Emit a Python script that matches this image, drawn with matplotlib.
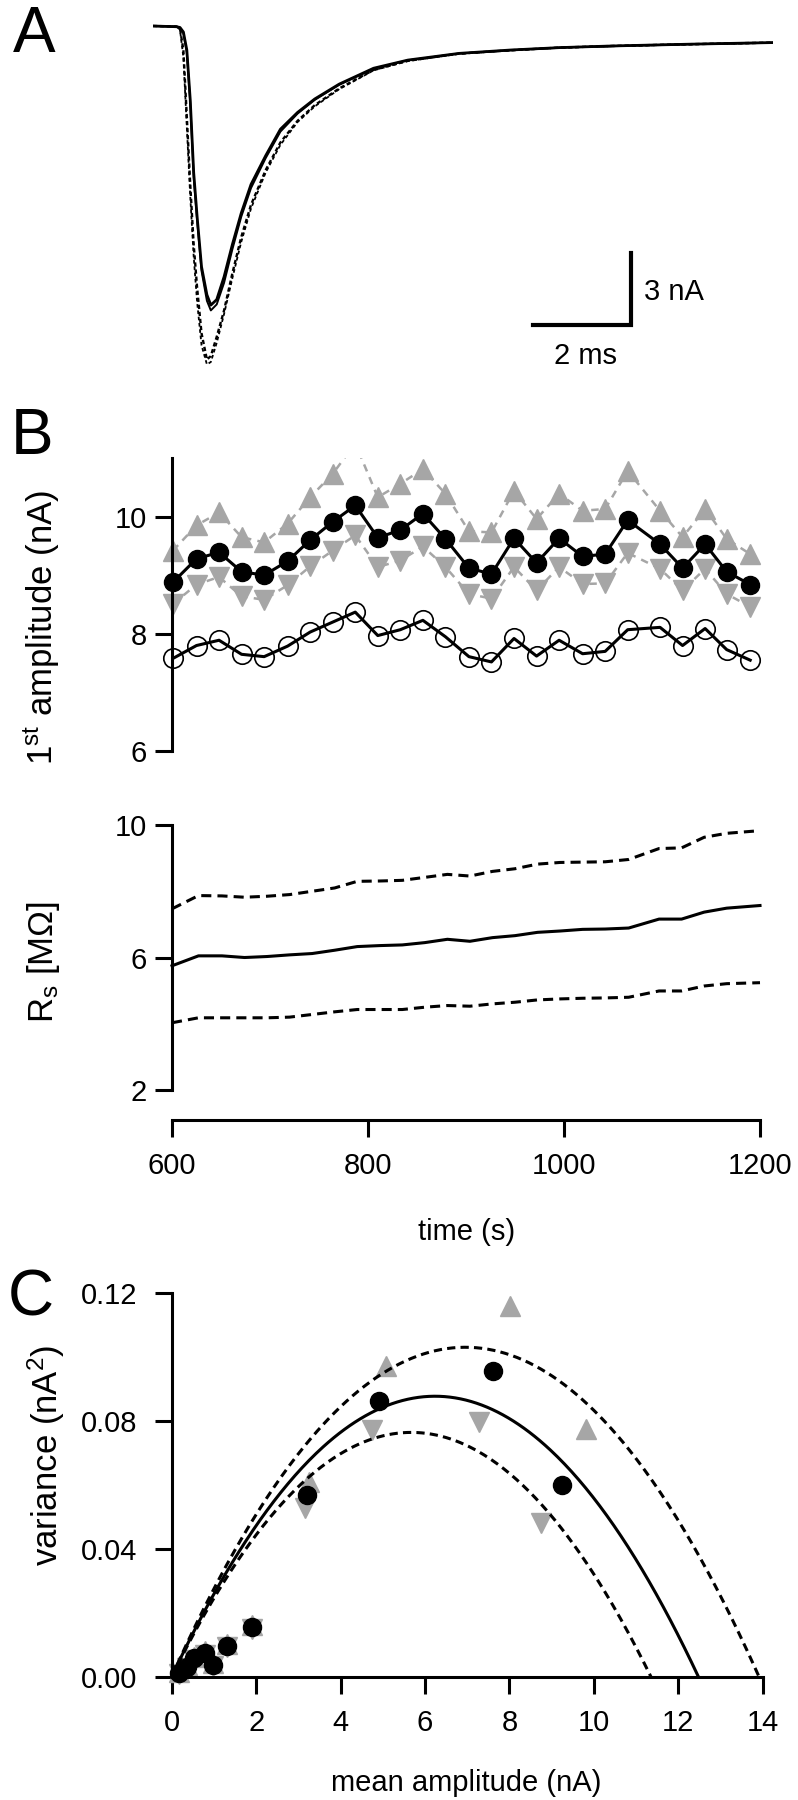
import numpy as np
import matplotlib.pyplot as plt

plt.rcParams['font.family'] = ['Liberation Sans', 'DejaVu Sans']
plt.rcParams['mathtext.fontset'] = 'custom'
plt.rcParams['mathtext.rm'] = 'Liberation Sans'
plt.rcParams['mathtext.it'] = 'Liberation Sans:italic'

W, H, DPI = 798, 1800, 100
GRAY = '#a6a6a6'

# ---- panel A: superimposed EPSCs (ms, nA)
trace_t = [0, 0.48, 0.55, 0.62, 0.69, 0.76, 0.83, 0.90, 0.99, 1.10, 1.18, 1.30, 1.45,
           1.62, 1.80, 2.0, 2.3, 2.6, 2.95, 3.3, 3.8, 4.5, 5.2, 6.25, 7.3, 8.3, 9.4,
           10.9, 12.65]
trace_solid_1 = [0, -0.03, -0.06, -0.25, -1.0, -3.08, -6.1, -7.94, -10.03, -11.2, -11.63,
                 -11.4, -10.45, -9.1, -7.8, -6.6, -5.4, -4.3, -3.6, -3.04, -2.42, -1.76,
                 -1.42, -1.14, -1.0, -0.9, -0.83, -0.76, -0.69]
trace_solid_2 = [0, -0.03, -0.08, -0.3, -1.1, -3.2, -6.3, -8.1, -10.2, -11.45, -11.85,
                 -11.6, -10.7, -9.3, -7.95, -6.75, -5.5, -4.4, -3.65, -3.08, -2.45, -1.78,
                 -1.43, -1.15, -1.01, -0.9, -0.84, -0.76, -0.70]
trace_dash_1 = [0, -0.02, -0.1, -1.0, -3.78, -6.6, -9.1, -10.9, -12.8, -13.9, -13.75,
                -12.95, -11.85, -10.3, -8.8, -7.45, -6.0, -4.85, -3.95, -3.3, -2.6, -1.83,
                -1.45, -1.15, -1.01, -0.9, -0.83, -0.76, -0.69]
trace_dash_2 = [0, -0.02, -0.15, -1.3, -4.2, -7.1, -9.6, -11.5, -13.3, -14.1, -14.0,
                -13.2, -12.0, -10.5, -9.0, -7.6, -6.1, -4.95, -4.0, -3.35, -2.63, -1.85,
                -1.46, -1.16, -1.02, -0.91, -0.84, -0.77, -0.70]

# ---- panel B: first amplitude per sweep (s, nA)
sweep_t = [601, 625, 648, 671, 694, 718, 741, 764, 787, 810, 833, 856, 879, 903, 926,
           949, 972, 995, 1019, 1042, 1065, 1098, 1121, 1144, 1166, 1190]
amp_mean = [8.88, 9.28, 9.39, 9.06, 9.00, 9.24, 9.60, 9.91, 10.19, 9.64, 9.77, 10.05,
            9.62, 9.12, 9.02, 9.63, 9.21, 9.63, 9.32, 9.36, 9.94, 9.53, 9.12, 9.53,
            9.06, 8.84]
amp_up = [9.42, 9.85, 10.07, 9.65, 9.56, 9.88, 10.33, 10.73, 11.25, 10.33, 10.56, 10.81,
          10.39, 9.75, 9.73, 10.44, 9.96, 10.39, 10.10, 10.13, 10.78, 10.10, 9.65, 10.13,
          9.62, 9.36]
amp_down = [8.51, 8.84, 8.97, 8.64, 8.58, 8.83, 9.15, 9.42, 9.68, 9.14, 9.25, 9.49,
            9.14, 8.68, 8.60, 9.14, 8.74, 9.14, 8.85, 8.86, 9.38, 9.11, 8.74, 9.11,
            8.68, 8.46]
amp_open = [7.58, 7.80, 7.89, 7.65, 7.61, 7.79, 8.03, 8.20, 8.37, 7.97, 8.07, 8.23,
            7.95, 7.61, 7.52, 7.92, 7.62, 7.89, 7.66, 7.70, 8.07, 8.11, 7.80, 8.09,
            7.73, 7.55]

# series resistance (MOhm)
rs_t = [600, 627, 651, 674, 697, 720, 743, 766, 789, 812, 835, 858, 881, 904, 927, 950,
        973, 996, 1019, 1042, 1066, 1097, 1120, 1143, 1166, 1200]
rs_mid = [5.75, 6.05, 6.05, 6.00, 6.03, 6.08, 6.12, 6.22, 6.33, 6.36, 6.38, 6.45, 6.55,
          6.49, 6.60, 6.66, 6.76, 6.80, 6.85, 6.86, 6.89, 7.16, 7.16, 7.37, 7.49, 7.57]
rs_hi = [7.47, 7.87, 7.86, 7.82, 7.85, 7.90, 8.00, 8.10, 8.30, 8.31, 8.33, 8.42, 8.51,
         8.46, 8.60, 8.68, 8.82, 8.87, 8.88, 8.89, 8.96, 9.29, 9.31, 9.63, 9.75, 9.83]
rs_lo = [4.03, 4.18, 4.18, 4.18, 4.18, 4.20, 4.28, 4.36, 4.43, 4.43, 4.43, 4.50, 4.55,
         4.53, 4.60, 4.65, 4.72, 4.75, 4.77, 4.78, 4.80, 4.99, 4.99, 5.14, 5.21, 5.24]

# ---- panel C: variance-mean (nA, nA^2)
dot_x = [0.18, 0.36, 0.52, 0.78, 0.97, 1.30, 1.91, 3.20, 4.90, 7.61, 9.25]
dot_y = [0.0011, 0.0031, 0.0057, 0.0074, 0.0037, 0.0097, 0.0156, 0.0568, 0.0863, 0.0956, 0.0599]
up_x = [0.18, 0.36, 0.52, 0.78, 0.97, 1.30, 1.91, 3.26, 5.08, 8.02, 9.82]
up_y = [0.0015, 0.0036, 0.0062, 0.0080, 0.0042, 0.0102, 0.0162, 0.0609, 0.0971, 0.116, 0.0773]
down_x = [0.18, 0.36, 0.52, 0.78, 0.97, 1.30, 1.91, 3.16, 4.74, 7.27, 8.74]
down_y = [0.0007, 0.0027, 0.0052, 0.0068, 0.0032, 0.0092, 0.0150, 0.0526, 0.0771, 0.0797, 0.0479]
# parabolic fits var = i*I - I^2/N  (solid, upper dashed, lower dashed)
fit_i = [0.0281, 0.0296, 0.0269]
fit_n = [444, 470, 422]


def box(l, t, r, b):
    return [l / W, 1 - b / H, (r - l) / W, (b - t) / H]


def style_ticks(ax, pad_y=6):
    ax.tick_params(axis='both', length=12, width=2.2, labelsize=21, direction='out')
    ax.tick_params(axis='y', pad=pad_y)
    ax.tick_params(axis='x', pad=11)
    for s in ax.spines.values():
        s.set_linewidth(2.2)
    ax.spines['top'].set_visible(False)
    ax.spines['right'].set_visible(False)


fig = plt.figure(figsize=(W / DPI, H / DPI), dpi=DPI)

# ---------------- A
axA = fig.add_axes(box(153, 14, 773, 374))
axA.set_xlim(0, 12.65)
axA.set_ylim(-14.5, 0.5)
axA.axis('off')
axA.plot(trace_t, trace_dash_1, color='black', lw=1.7, ls=(0, (1.8, 1.2)))
axA.plot(trace_t, trace_dash_2, color='black', lw=1.3, ls=(0, (2, 1.5)))
axA.plot(trace_t, trace_solid_2, color='black', lw=1.4)
axA.plot(trace_t, trace_solid_1, color='black', lw=2.0)
axA.plot([7.76, 9.76, 9.76], [-12.46, -12.46, -9.46], color='black', lw=3,
         solid_joinstyle='miter', clip_on=False)
axA.text(10.02, -11.1, '3 nA', fontsize=21, ha='left', va='center')
axA.text(8.82, -13.75, '2 ms', fontsize=21, ha='center', va='center')

# ---------------- B top
axB1 = fig.add_axes(box(157.3, 458, 774.7, 751))
axB1.set_xlim(585, 1215)
axB1.set_ylim(6, 11)
style_ticks(axB1)
axB1.spines['bottom'].set_visible(False)
axB1.spines['left'].set_position(('data', 600))
axB1.spines['left'].set_bounds(6, 11)
axB1.set_xticks([])
axB1.set_yticks([6, 8, 10])
axB1.patch.set_alpha(0)
axB1.plot(sweep_t, amp_up, color=GRAY, lw=1.8, ls=(0, (3, 2.5)), marker='^', ms=14, mec=GRAY, zorder=2)
axB1.plot(sweep_t, amp_down, color=GRAY, lw=1.8, ls=(0, (3, 2.5)), marker='v', ms=14, mec=GRAY, zorder=2)
axB1.plot(sweep_t, amp_open, color='black', lw=2.2, marker='o', ms=14, mfc='none', mec='black', mew=1.2, zorder=3)
axB1.plot(sweep_t, amp_mean, color='black', lw=2.2, marker='o', ms=13, zorder=4)

# ---------------- B bottom
axB2 = fig.add_axes(box(157.3, 818.4, 774.7, 1090))
axB2.set_xlim(585, 1215)
axB2.set_ylim(2, 10.2)
style_ticks(axB2)
axB2.spines['left'].set_position(('data', 600))
axB2.spines['left'].set_bounds(2, 10)
axB2.spines['bottom'].set_position(('outward', 21.6))
axB2.spines['bottom'].set_bounds(600, 1200)
axB2.set_xticks([600, 800, 1000, 1200])
axB2.set_yticks([2, 6, 10])
axB2.patch.set_alpha(0)
axB2.plot(rs_t, rs_hi, color='black', lw=2.2, ls=(0, (3.3, 2)))
axB2.plot(rs_t, rs_mid, color='black', lw=2.2)
axB2.plot(rs_t, rs_lo, color='black', lw=2.2, ls=(0, (3.3, 2)))

# ---------------- C
axC = fig.add_axes(box(171.7, 1292.7, 762.7, 1676.7))
axC.set_xlim(0, 14)
axC.set_ylim(0, 0.12)
style_ticks(axC, pad_y=13)
axC.set_xticks(range(0, 15, 2))
axC.set_yticks([0, 0.04, 0.08, 0.12])
axC.set_yticklabels(['0.00', '0.04', '0.08', '0.12'])
axC.patch.set_alpha(0)
for k, (i, n) in enumerate(zip(fit_i, fit_n)):
    xx = np.linspace(0, i * n, 300)
    ls = '-' if k == 0 else (0, (2.7, 1.7))
    axC.plot(xx, i * xx - xx ** 2 / n, color='black', lw=2.2, ls=ls, zorder=3)
axC.plot(up_x, up_y, ls='none', marker='^', ms=14, color=GRAY, clip_on=False, zorder=2)
axC.plot(down_x, down_y, ls='none', marker='v', ms=14, color=GRAY, clip_on=False, zorder=2)
axC.plot(dot_x, dot_y, ls='none', marker='o', ms=13, color='black', clip_on=False, zorder=4)

# ---------------- labels
fig.text(13 / W, 1 - 52 / H, 'A', fontsize=46, va='baseline')
fig.text(11 / W, 1 - 454 / H, 'B', fontsize=46, va='baseline')
fig.text(8 / W, 1 - 1315 / H, 'C', fontsize=46, va='baseline')

fig.text(42 / W, 1 - 627 / H, r'1$^{\rm st}$ amplitude (nA)', fontsize=25, rotation=90,
         ha='center', va='center')
fig.text(44 / W, 1 - 962 / H, r'R$_{\rm s}$ [MΩ]', fontsize=25, rotation=90,
         ha='center', va='center')
fig.text(46 / W, 1 - 1455 / H, r'variance (nA$^{2}$)', fontsize=25, rotation=90,
         ha='center', va='center')
fig.text(467 / W, 1 - 1232 / H, 'time (s)', fontsize=21, ha='center', va='center')
fig.text(466 / W, 1 - 1783 / H, 'mean amplitude (nA)', fontsize=21, ha='center', va='center')

fig.savefig('out.png', dpi=DPI)
